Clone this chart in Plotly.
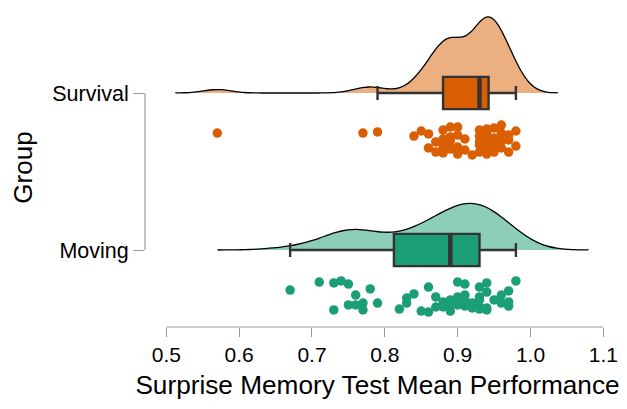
import numpy as np
import plotly.graph_objects as go

# ---------------- data ----------------
groups = ["Moving", "Survival"]
group_pos = [1, 2]

survival = [0.57, 0.77, 0.79, 0.84, 0.85, 0.86, 0.86, 0.87, 0.87, 0.88, 0.88, 0.88, 0.88,
            0.88, 0.89, 0.89, 0.89, 0.89, 0.90, 0.90, 0.90, 0.90, 0.91, 0.91, 0.92, 0.93,
            0.93, 0.93, 0.93, 0.93, 0.94, 0.94, 0.94, 0.94, 0.94, 0.94, 0.94, 0.94, 0.94,
            0.95, 0.95, 0.95, 0.95, 0.96, 0.96, 0.96, 0.96, 0.97, 0.97, 0.97, 0.98, 0.98]
survival_jitter = [0.255, 0.255, 0.248, 0.274, 0.242, 0.350, 0.261, 0.312, 0.376, 0.293, 0.344, 0.236, 0.325,
                   0.382, 0.280, 0.357, 0.217, 0.306, 0.389, 0.268, 0.344, 0.217, 0.363, 0.293, 0.395, 0.236,
                   0.331, 0.376, 0.274, 0.312, 0.229, 0.261, 0.299, 0.338, 0.369, 0.280, 0.389, 0.318, 0.242,
                   0.223, 0.287, 0.331, 0.376, 0.255, 0.204, 0.306, 0.350, 0.268, 0.376, 0.299, 0.338, 0.242]

moving = [0.67, 0.71, 0.73, 0.73, 0.74, 0.75, 0.75, 0.76, 0.76, 0.77, 0.77, 0.78, 0.79,
          0.82, 0.83, 0.83, 0.84, 0.85, 0.86, 0.86, 0.87, 0.87, 0.88, 0.88, 0.89, 0.89,
          0.89, 0.90, 0.90, 0.90, 0.91, 0.91, 0.91, 0.91, 0.92, 0.92, 0.93, 0.93, 0.93,
          0.93, 0.93, 0.94, 0.94, 0.94, 0.94, 0.95, 0.96, 0.96, 0.97, 0.97, 0.97, 0.98]
moving_jitter = [0.255, 0.204, 0.210, 0.382, 0.197, 0.217, 0.350, 0.287, 0.350, 0.338, 0.382, 0.248, 0.338,
                 0.376, 0.306, 0.338, 0.280, 0.389, 0.236, 0.395, 0.299, 0.363, 0.331, 0.363, 0.350, 0.389,
                 0.318, 0.204, 0.299, 0.350, 0.217, 0.287, 0.357, 0.318, 0.338, 0.369, 0.236, 0.299, 0.363,
                 0.376, 0.318, 0.210, 0.268, 0.369, 0.382, 0.318, 0.287, 0.338, 0.261, 0.331, 0.357, 0.197]

x_ticks = [0.5, 0.6, 0.7, 0.8, 0.9, 1.0, 1.1]
x_title = "Surprise Memory Test Mean Performance"
y_title = "Group"

colors = {"Survival": "#D95F02", "Moving": "#1B9E77"}
fills = {"Survival": "rgba(217,95,2,0.5)", "Moving": "rgba(27,158,119,0.5)"}

data = {"Moving": (moving, moving_jitter), "Survival": (survival, survival_jitter)}

FONT = "Liberation Sans, Arial, sans-serif"


def nrd0(v):
    v = np.asarray(v)
    q1, q3 = np.percentile(v, [25, 75])
    lo = min(np.std(v, ddof=1), (q3 - q1) / 1.34)
    return 0.9 * lo * len(v) ** -0.2


def kde_max(v, bw):
    v = np.asarray(v)
    t = np.linspace(v.min() - 3 * bw, v.max() + 3 * bw, 800)
    d = np.exp(-0.5 * ((t[:, None] - v[None, :]) / bw) ** 2).sum(axis=1)
    return d.max() / (len(v) * bw * np.sqrt(2 * np.pi))


bws = {g: nrd0(data[g][0]) for g in groups}
peaks = {g: kde_max(data[g][0], bws[g]) for g in groups}
max_peak = max(peaks.values())
W = 0.97          # full violin width (data units) for the tallest cloud
BOX_W = 0.206     # box thickness (data units)

fig = go.Figure()

# half violins (clouds) -- equal-area scaling
for g, p in zip(groups, group_pos):
    vals = data[g][0]
    bw = bws[g]
    fig.add_trace(go.Violin(
        x=vals, y0=p, orientation="h", side="positive",
        bandwidth=bw, spanmode="manual", span=[min(vals) - 3 * bw, max(vals) + 3 * bw],
        points=False, box_visible=False, meanline_visible=False,
        fillcolor=fills[g], line=dict(color="black", width=1.3),
        width=W * peaks[g] / max_peak, scalemode="width",
        hoverinfo="skip", showlegend=False,
    ))

# boxes
for g, p in zip(groups, group_pos):
    vals = np.asarray(data[g][0])
    q1, med, q3 = np.percentile(vals, [25, 50, 75])
    iqr = q3 - q1
    lf = vals[vals >= q1 - 1.5 * iqr].min()
    uf = vals[vals <= q3 + 1.5 * iqr].max()
    fig.add_trace(go.Box(
        y=[p], q1=[q1], median=[med], q3=[q3], lowerfence=[lf], upperfence=[uf],
        orientation="h", width=BOX_W, whiskerwidth=0.44,
        fillcolor=colors[g], line=dict(color="#333333", width=2.4),
        boxpoints=False, hoverinfo="skip", showlegend=False,
    ))
    # thicker median bar
    fig.add_trace(go.Scatter(
        x=[med, med], y=[p - BOX_W / 2 + 0.008, p + BOX_W / 2 - 0.008], mode="lines",
        line=dict(color="#333333", width=4.5), hoverinfo="skip", showlegend=False,
    ))

# rain (points)
for g, p in zip(groups, group_pos):
    vals, jit = data[g]
    fig.add_trace(go.Scatter(
        x=vals, y=[p - j for j in jit], mode="markers",
        marker=dict(color=colors[g], size=9.5, line=dict(width=0)),
        hoverinfo="skip", showlegend=False,
    ))

# page body has an 8px margin: figure is placed at (8, 8) in the window
OFF = 8
ppu = 157.0
plot_top, plot_bottom = 8, 327          # window pixels
plot_left, plot_right = 145, 610        # window pixels
y_lo = group_pos[0] - (plot_bottom - 250) / ppu
y_hi = group_pos[1] + (93 - plot_top) / ppu

axis_grey = "#9a9a9a"

fig.update_layout(
    width=627 - OFF, height=409 - OFF,
    margin=dict(l=plot_left - OFF, r=627 - plot_right, t=plot_top - OFF, b=409 - plot_bottom, pad=0),
    paper_bgcolor="white", plot_bgcolor="white",
    font=dict(family=FONT, color="black"),
    violinmode="overlay", boxmode="overlay",
    xaxis=dict(
        range=[0.5 - 21.3 / 728, 1.1 + 6.7 / 728], automargin=False,
        tickvals=x_ticks, ticktext=[f"{t:.1f}" for t in x_ticks],
        ticks="outside", ticklen=9, tickwidth=1.2, tickcolor=axis_grey,
        showline=False, showgrid=False, zeroline=False,
        tickfont=dict(size=21, family=FONT, color="black"),
        title=dict(text=x_title, font=dict(size=26.2, family=FONT, color="black"), standoff=10),
    ),
    yaxis=dict(
        range=[y_lo, y_hi], automargin=False,
        tickvals=group_pos, ticktext=groups,
        ticks="outside", ticklen=11, tickwidth=1.2, tickcolor=axis_grey,
        showline=False, showgrid=False, zeroline=False,
        tickfont=dict(size=21.5, family=FONT, color="black"),
        title=dict(text=y_title, font=dict(size=26, family=FONT, color="black"), standoff=17),
    ),
    shapes=[
        dict(type="line", xref="x domain", yref="y", x0=0, x1=0,
             y0=group_pos[0], y1=group_pos[1], line=dict(color=axis_grey, width=1.2)),
        dict(type="line", xref="x", yref="y domain", x0=x_ticks[0], x1=x_ticks[-1],
             y0=0, y1=0, line=dict(color=axis_grey, width=1.2)),
    ],
)

fig.write_html("out.html")
